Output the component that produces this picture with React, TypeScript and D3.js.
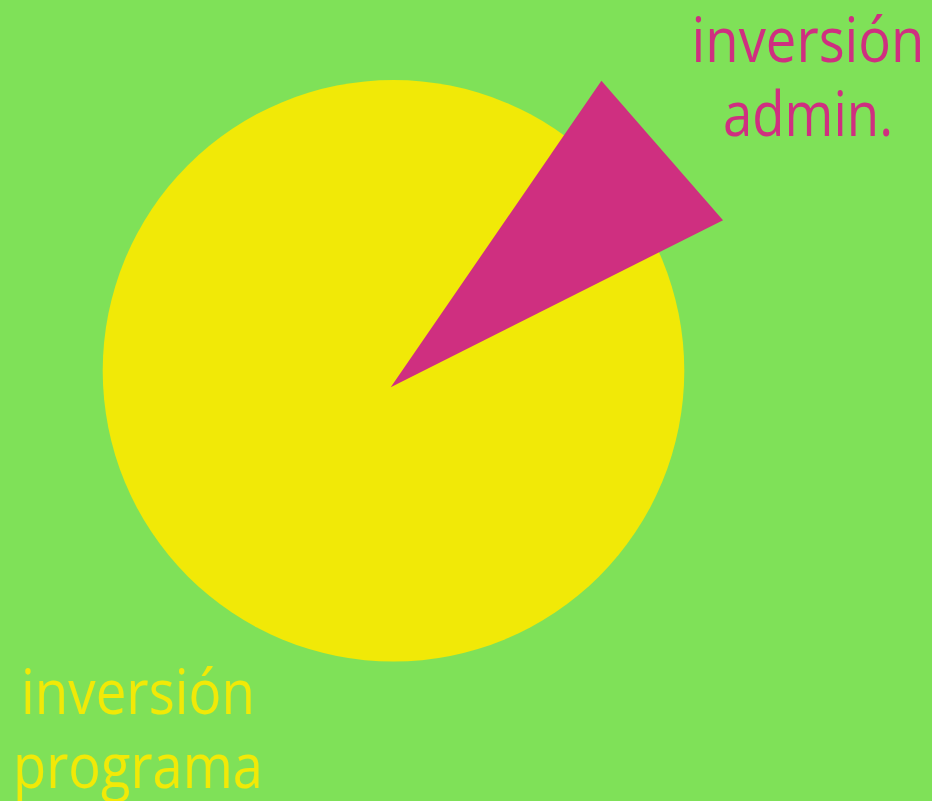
import React from "react";
import * as d3 from "d3";

const categories = ["inversión admin.", "inversión programa"];
const values = [8, 92];
const labelLines = [["inversión", "admin."], ["inversión", "programa"]];
const colors = ["#cf2f80", "#f1e907"];

const W = 932;
const H = 801;
const BG = "#7fe158";

export default function App() {
  const cx = 393.5;
  const cy = 370.8;
  const r = 290.8;
  const startDeg = 34.5;

  const pie = d3
    .pie<number>()
    .sort(null)
    .value((d) => d)
    .startAngle((startDeg * Math.PI) / 180)
    .endAngle((startDeg * Math.PI) / 180 + 2 * Math.PI);
  const arcs = pie(values);

  const circleArc = d3.arc()({
    innerRadius: 0,
    outerRadius: r,
    startAngle: 0,
    endAngle: 2 * Math.PI,
  } as any) as string;

  // admin slice drawn as an exploded triangle
  const a = arcs[0];
  const tip: [number, number] = [cx - 2.8, cy + 16.5];
  const R = 372;
  const p = (ang: number): [number, number] => [
    tip[0] + R * Math.sin(ang),
    tip[1] - R * Math.cos(ang),
  ];
  const tri = d3.line()([tip, p(a.startAngle), p(a.endAngle)]) + "Z";

  const labelPos = [
    { x: 808, y: 62 },
    { x: 138, y: 714 },
  ];
  const lineWidths = [
    [233, 170],
    [234, 250],
  ];

  return (
    <svg
      width={W}
      height={H}
      style={{ position: "absolute", left: 0, top: 0, display: "block" }}
    >
      <rect x={0} y={0} width={W} height={H} fill={BG} />
      <path d={circleArc} transform={`translate(${cx},${cy})`} fill={colors[1]} />
      <path d={tri} fill={colors[0]} />
      {categories.map((c, i) => (
        <text
          key={c}
          fill={colors[i]}
          fontFamily="'Open Sans', 'Noto Sans', sans-serif"
          fontSize={62}
          textAnchor="middle"
        >
          {labelLines[i].map((ln, j) => (
            <tspan
              key={j}
              x={labelPos[i].x}
              y={labelPos[i].y + j * 73.5}
              textLength={lineWidths[i][j]}
              lengthAdjust="spacingAndGlyphs"
            >
              {ln}
            </tspan>
          ))}
        </text>
      ))}
    </svg>
  );
}
